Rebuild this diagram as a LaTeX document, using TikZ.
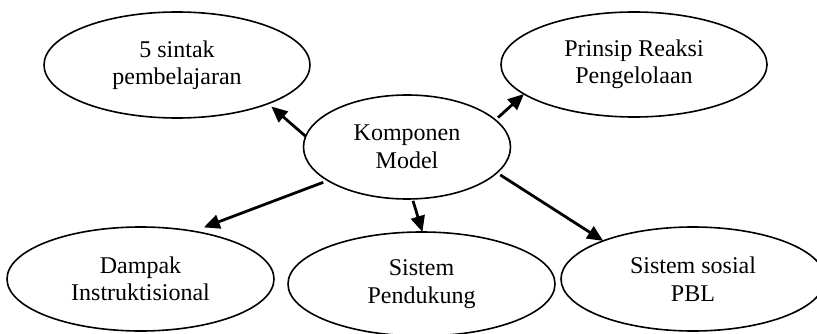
\documentclass[tikz,border=0pt]{standalone}
\usepackage{fontspec}
\setmainfont{Liberation Serif}
\usetikzlibrary{shapes.geometric,arrows.meta}

\tikzset{
  part/.style={ellipse, draw, line width=1.6pt, outer sep=0pt, inner sep=0pt,
    align=center, font=\fontsize{24}{27.5}\selectfont,
    minimum width=266pt, minimum height=105pt},
  link/.style={line width=2.8pt, -{Triangle[length=16pt,width=14pt]}}
}

\begin{document}
\begin{tikzpicture}[x=1pt, y=-1pt]
  \useasboundingbox (0,0) rectangle (817,334);

  % centre and the five components around it
  \node[part, minimum width=207pt, minimum height=104pt] (komp) at (407,147) {Komponen\\Model};
  \node[part, minimum height=106pt] (sintak) at (177,65) {5 sintak\\pembelajaran};
  \node[part] (prinsip) at (634,64.5) {Prinsip Reaksi\\Pengelolaan};
  \node[part, minimum width=267pt, minimum height=104pt] (dampak) at (140.5,279) {Dampak\\Instruktisional};
  \node[part, minimum width=267pt, minimum height=104pt] (pendukung) at (421.5,284) {Sistem\\Pendukung};
  \node[part, minimum width=264pt, minimum height=104pt] (sosial) at (693,279) {Sistem sosial\\PBL};

  % arrows from the centre outwards
  \draw[link, shorten >=4.4pt] (komp.174.5) -- (sintak.-23.6);
  \draw[link, shorten <=3.5pt] (komp.17.5) -- (prinsip.-165.7);
  \draw[link, shorten <=5pt, shorten >=11pt] (komp.203.2) -- (dampak.42.8);
  \draw[link, shorten <=2pt] (komp.-84.4) -- (pendukung.89.5);
  \draw[link, shorten <=4pt] (komp.-16.1) -- (sosial.157.3);
\end{tikzpicture}
\end{document}
